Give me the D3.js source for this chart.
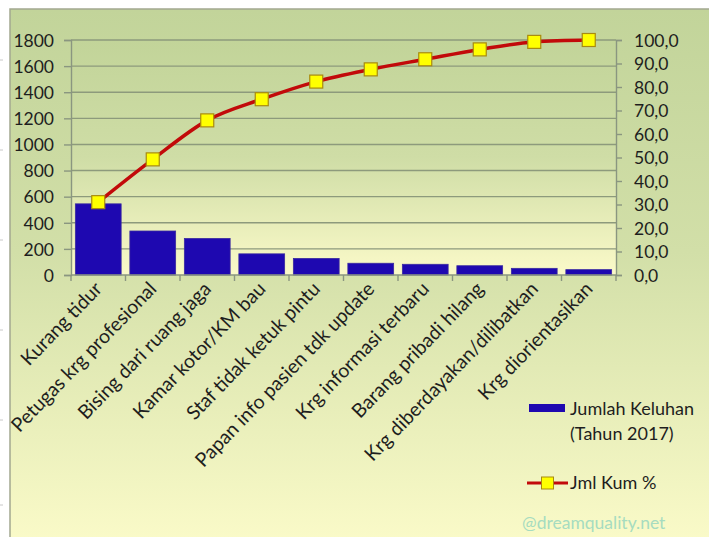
<!DOCTYPE html>
<html><head><meta charset="utf-8">
<script src="https://cdn.jsdelivr.net/npm/d3@7"></script>
<style>html,body{margin:0;padding:0;background:#fff;}svg{display:block;}</style>
</head><body>
<svg id="chart" width="709" height="537"></svg>
<script>
const categories = ["Kurang tidur","Petugas krg profesional","Bising dari ruang jaga","Kamar kotor/KM bau","Staf tidak ketuk pintu","Papan info pasien tdk update","Krg informasi terbaru","Barang pribadi hilang","Krg diberdayakan/dilibatkan","Krg diorientasikan"];
const complaints = [545, 337, 280, 162, 127, 90, 82, 71, 51, 41];
const cumPct = [31.0, 49.2, 65.8, 74.8, 82.3, 87.5, 91.8, 96.0, 99.2, 100.0];
const leftTicks = [0,200,400,600,800,1000,1200,1400,1600,1800];
const rightTicks = [0,10,20,30,40,50,60,70,80,90,100];
const seriesNames = ["Jumlah Keluhan", "(Tahun 2017)", "Jml Kum %"];
const watermark = "@dreamquality.net";

const svg = d3.select("#chart");
const font = "Lato, 'Open Sans', sans-serif";
const X0 = 71, X1 = 616, YT = 40, YB = 275;

const defs = svg.append("defs");
const g1 = defs.append("linearGradient").attr("id","outerG").attr("x1",0).attr("y1",0).attr("x2",0).attr("y2",1);
g1.append("stop").attr("offset","0%").attr("stop-color","#c2d49a");
g1.append("stop").attr("offset","45%").attr("stop-color","#d2dfa8");
g1.append("stop").attr("offset","100%").attr("stop-color","#fbfbc9");
const g2 = defs.append("linearGradient").attr("id","plotG").attr("x1",0).attr("y1",0).attr("x2",0).attr("y2",1);
g2.append("stop").attr("offset","0%").attr("stop-color","#c2d499");
g2.append("stop").attr("offset","50%").attr("stop-color","#cfdda6");
g2.append("stop").attr("offset","100%").attr("stop-color","#fbfac9");

// outer chart area
svg.append("rect").attr("x",10).attr("y",9).attr("width",709).attr("height",540)
  .attr("fill","url(#outerG)").attr("stroke","#a3a890").attr("stroke-width",1.5);
// small marks on left white strip
[60,150,240,330,420,505].forEach(y=>svg.append("line").attr("x1",0).attr("x2",3).attr("y1",y).attr("y2",y).attr("stroke","#c8c8c8"));

// plot area
svg.append("rect").attr("x",X0).attr("y",YT).attr("width",X1-X0).attr("height",YB-YT).attr("fill","url(#plotG)");

const x = d3.scaleBand().domain(categories).range([X0,X1]).paddingInner(0.16).paddingOuter(0.08);
const yL = d3.scaleLinear().domain([0,1800]).range([YB,YT]);
const yR = d3.scaleLinear().domain([0,100]).range([YB,YT]);

// gridlines
svg.append("g").selectAll("line").data(leftTicks.filter(d=>d>0)).join("line")
  .attr("x1",X0).attr("x2",X1).attr("y1",d=>yL(d)).attr("y2",d=>yL(d))
  .attr("stroke","#8d9a7c").attr("stroke-width",1.4);

// bars
svg.append("g").selectAll("rect").data(categories).join("rect")
  .attr("x",d=>x(d)).attr("width",x.bandwidth())
  .attr("y",(d,i)=>yL(complaints[i])).attr("height",(d,i)=>YB-yL(complaints[i]))
  .attr("fill","#1e08b0").attr("stroke","#3a2aa0").attr("stroke-width",0.8);

// axes
const axisColor = "#8a9680";
const lAxis = svg.append("g").attr("transform",`translate(${X0},0)`)
  .call(d3.axisLeft(yL).tickValues(leftTicks).tickSize(7).tickPadding(10).tickFormat(d3.format("d")));
const rAxis = svg.append("g").attr("transform",`translate(${X1},0)`)
  .call(d3.axisRight(yR).tickValues(rightTicks).tickSize(6).tickPadding(12).tickFormat(d=>d.toFixed(1).replace(".",",")));
[lAxis,rAxis].forEach(a=>{
  a.select(".domain").attr("stroke",axisColor).attr("stroke-width",1.4);
  a.selectAll(".tick line").attr("stroke",axisColor).attr("stroke-width",1.4);
  a.selectAll("text").attr("font-family",font).attr("font-size","17.5px").attr("fill","#1e1e1e");
});
lAxis.selectAll("text").attr("dy","0.36em");
rAxis.selectAll("text").attr("dy","0.36em");

// x axis baseline + boundary ticks
svg.append("line").attr("x1",X0).attr("x2",X1).attr("y1",YB).attr("y2",YB).attr("stroke",axisColor).attr("stroke-width",1.4);
svg.append("g").selectAll("line").data(d3.range(categories.length+1)).join("line")
  .attr("x1",i=>X0+i*(X1-X0)/categories.length).attr("x2",i=>X0+i*(X1-X0)/categories.length)
  .attr("y1",YB).attr("y2",YB+6).attr("stroke",axisColor).attr("stroke-width",1.4);

// x labels
svg.append("g").selectAll("text").data(categories).join("text")
  .attr("transform",d=>`translate(${x(d)+x.bandwidth()/2+5},${YB+15}) rotate(-46)`)
  .attr("text-anchor","end").attr("font-family",font).attr("font-size","19.5px").attr("fill","#1e1e1e")
  .text(d=>d);

// cumulative line
const cx = d=>x(d)+x.bandwidth()/2;
const line = d3.line().x((d,i)=>cx(categories[i])).y(d=>yR(d)).curve(d3.curveMonotoneX);
svg.append("path").datum(cumPct).attr("d",line).attr("fill","none")
  .attr("stroke","#c20a0a").attr("stroke-width",3.5);
svg.append("g").selectAll("rect").data(cumPct).join("rect")
  .attr("x",(d,i)=>cx(categories[i])-6.5).attr("y",d=>yR(d)-6.5).attr("width",13).attr("height",13)
  .attr("fill","#ffff00").attr("stroke","#a88a10").attr("stroke-width",1.2);

// legend
svg.append("rect").attr("x",529).attr("y",404).attr("width",36).attr("height",8).attr("fill","#1e08b0");
svg.append("text").attr("x",570).attr("y",415).attr("font-family",font).attr("font-size","18px").attr("fill","#1e1e1e").text(seriesNames[0]);
svg.append("text").attr("x",570).attr("y",440).attr("font-family",font).attr("font-size","18px").attr("fill","#1e1e1e").text(seriesNames[1]);
svg.append("line").attr("x1",527).attr("x2",568).attr("y1",483).attr("y2",483).attr("stroke","#c20a0a").attr("stroke-width",3);
svg.append("rect").attr("x",541.5).attr("y",477).attr("width",12).attr("height",12).attr("fill","#ffff00").attr("stroke","#a88a10");
svg.append("text").attr("x",570).attr("y",489).attr("font-family",font).attr("font-size","18px").attr("fill","#1e1e1e").text(seriesNames[2]);

// watermark
svg.append("text").attr("x",522).attr("y",529).attr("font-family",font).attr("font-size","17.5px").attr("fill","#a6dcc0").text(watermark);
</script>
</body></html>
